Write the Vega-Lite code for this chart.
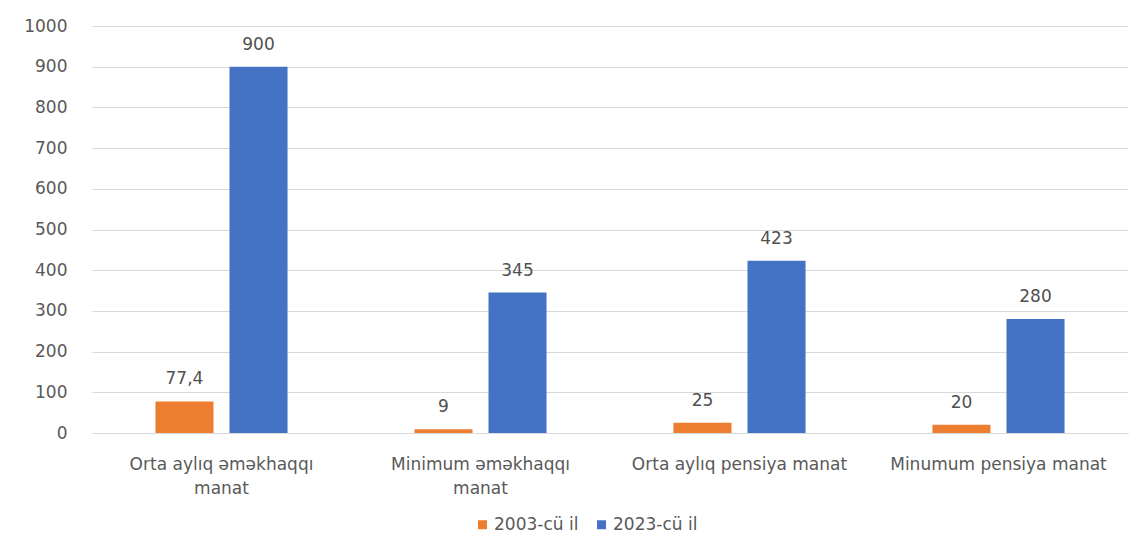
{
  "$schema": "https://vega.github.io/schema/vega-lite/v6.json",
  "width": 1036,
  "height": 407,
  "padding": {"left": 23, "top": 17, "right": 20, "bottom": 10},
  "autosize": {"type": "pad"},
  "background": "white",
  "config": {
    "view": {"stroke": null},
    "font": "DejaVu Sans",
    "axis": {"labelFont": "DejaVu Sans", "labelColor": "#595959", "labelFontSize": 17},
    "legend": {"labelFont": "DejaVu Sans", "labelColor": "#595959", "labelFontSize": 17}
  },
  "data": {
    "values": [
      {"category": "Orta aylıq əməkhaqqı manat", "series": "2003-cü il", "value": 77.4, "label": "77,4"},
      {"category": "Orta aylıq əməkhaqqı manat", "series": "2023-cü il", "value": 900, "label": "900"},
      {"category": "Minimum əməkhaqqı manat", "series": "2003-cü il", "value": 9, "label": "9"},
      {"category": "Minimum əməkhaqqı manat", "series": "2023-cü il", "value": 345, "label": "345"},
      {"category": "Orta aylıq pensiya manat", "series": "2003-cü il", "value": 25, "label": "25"},
      {"category": "Orta aylıq pensiya manat", "series": "2023-cü il", "value": 423, "label": "423"},
      {"category": "Minumum pensiya manat", "series": "2003-cü il", "value": 20, "label": "20"},
      {"category": "Minumum pensiya manat", "series": "2023-cü il", "value": 280, "label": "280"}
    ]
  },
  "encoding": {
    "x": {
      "field": "category",
      "type": "nominal",
      "sort": null,
      "title": null,
      "scale": {"paddingInner": 0.49, "paddingOuter": 0.245},
      "axis": {
        "labelAngle": 0,
        "ticks": false,
        "domain": true,
        "domainColor": "#d9d9d9",
        "labelPadding": 23,
        "labelLineHeight": 24,
        "labelLimit": 400,
        "labelOverlap": false,
        "labelExpr": "datum.value == 'Orta aylıq əməkhaqqı manat' ? ['Orta aylıq əməkhaqqı', 'manat'] : datum.value == 'Minimum əməkhaqqı manat' ? ['Minimum əməkhaqqı', 'manat'] : datum.value"
      }
    },
    "xOffset": {"field": "series", "type": "nominal", "scale": {"paddingInner": 0.216, "paddingOuter": 0}},
    "y": {
      "field": "value",
      "type": "quantitative",
      "title": null,
      "scale": {"domain": [0, 1000], "nice": false},
      "axis": {
        "values": [0, 100, 200, 300, 400, 500, 600, 700, 800, 900, 1000],
        "format": "d",
        "domain": false,
        "ticks": false,
        "gridColor": "#d9d9d9",
        "labelPadding": 25
      }
    }
  },
  "layer": [
    {
      "mark": {"type": "bar"},
      "encoding": {
        "color": {
          "field": "series",
          "type": "nominal",
          "title": null,
          "scale": {"domain": ["2003-cü il", "2023-cü il"], "range": ["#ED7D31", "#4472C4"]},
          "legend": {
            "orient": "none",
            "legendX": 382,
            "legendY": 490,
            "direction": "horizontal",
            "symbolType": "square",
            "symbolSize": 81,
            "symbolStrokeWidth": 0,
            "columnPadding": 14,
            "labelOffset": 3
          }
        }
      }
    },
    {
      "mark": {"type": "text", "baseline": "alphabetic", "dy": -17, "fontSize": 17, "color": "#505050"},
      "encoding": {"text": {"field": "label"}}
    }
  ]
}
